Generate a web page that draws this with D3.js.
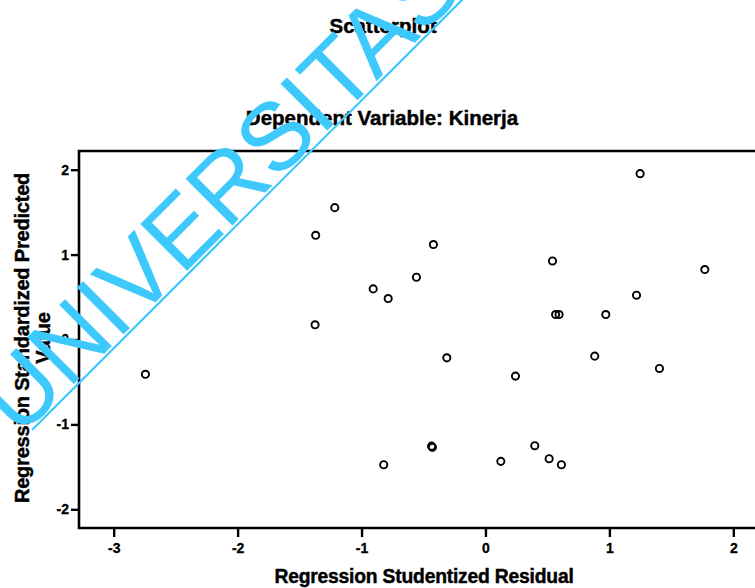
<!DOCTYPE html>
<html>
<head>
<meta charset="utf-8">
<script src="https://cdn.jsdelivr.net/npm/d3@7"></script>
<style>
  html, body { margin: 0; padding: 0; background: #fff; }
  svg { display: block; }
  text { font-family: "Liberation Sans", Arial, sans-serif; }
</style>
</head>
<body>
<svg id="chart" width="755" height="588"></svg>
<script>
// Data (Regression Studentized Residual vs Standardized Predicted Value)
const residuals = [-2.744, -1.216, -1.370, -1.375, -0.906, -0.785, -0.557, -0.420, -0.312, -0.821,
                   -0.435, -0.428, 0.124, 0.242, 0.398, 0.514, 0.613, 0.541, 0.566, 0.594,
                   0.971, 0.882, 1.219, 1.248, 1.404, 1.770];
const predicted = [-0.410, 1.553, 1.227, 0.173, 0.596, 0.482, 0.733, 1.118, -0.216, -1.475,
                   -1.256, -1.270, -1.435, -0.431, -1.251, -1.404, -1.475, 0.925, 0.294, 0.294,
                   0.294, -0.196, 0.522, 1.953, -0.341, 0.824];
const xTicks = [-3, -2, -1, 0, 1, 2];
const yTicks = [-2, -1, 0, 1, 2];
const title = "Scatterplot";
const subtitle = "Dependent Variable: Kinerja";
const xLabel = "Regression Studentized Residual";
const yLabelLines = ["Regression Standardized Predicted", "Value"];
const watermark = "UNIVERSITAS";

const svg = d3.select("#chart");
const W = 755, H = 588;

const x = d3.scaleLinear().domain([-3.28, 2.28]).range([79, 768]);
const y = d3.scaleLinear().domain([-2.22, 2.22]).range([528, 151]);

svg.append("rect").attr("width", W).attr("height", H).attr("fill", "#fff");

// Titles
const boldStroke = 0.45;
svg.append("text").attr("x", 383).attr("y", 33).attr("text-anchor", "middle")
  .attr("font-size", 20.5).attr("font-weight", "bold")
  .attr("stroke", "#000").attr("stroke-width", boldStroke).text(title);
svg.append("text").attr("x", 382).attr("y", 125).attr("text-anchor", "middle")
  .attr("font-size", 20.5).attr("font-weight", "bold")
  .attr("stroke", "#000").attr("stroke-width", boldStroke).text(subtitle);

// Frame (plot area runs past the right edge of the window)
svg.append("path")
  .attr("d", `M${x.range()[1]},${y.range()[1]}H${x.range()[0]}V${y.range()[0]}H${x.range()[1]}`)
  .attr("fill", "none").attr("stroke", "#000").attr("stroke-width", 2.6);

// Axes
const xAxis = svg.append("g").attr("transform", `translate(0,${y.range()[0]})`)
  .call(d3.axisBottom(x).tickValues(xTicks).tickSize(9).tickPadding(6).tickFormat(d3.format("d")));
const yAxis = svg.append("g").attr("transform", `translate(${x.range()[0]},0)`)
  .call(d3.axisLeft(y).tickValues(yTicks).tickSize(8).tickPadding(2).tickFormat(d3.format("d")));
[xAxis, yAxis].forEach(g => {
  g.select(".domain").remove();
  g.selectAll(".tick line").attr("stroke", "#000").attr("stroke-width", 2.4);
  g.selectAll(".tick text").attr("font-family", "'Liberation Sans', Arial, sans-serif")
    .attr("font-size", 14).attr("font-weight", "bold").attr("fill", "#000")
    .attr("stroke", "#000").attr("stroke-width", 0.3)
    .text(d => d < 0 ? "-" + Math.abs(d) : d);
});

// Axis titles
svg.append("text").attr("x", 424).attr("y", 583).attr("text-anchor", "middle")
  .attr("font-size", 19.3).attr("font-weight", "bold").attr("letter-spacing", -0.2)
  .attr("stroke", "#000").attr("stroke-width", boldStroke).text(xLabel);
const yl = svg.append("g").attr("transform", "translate(0,338) rotate(-90)");
yLabelLines.forEach((t, i) => {
  yl.append("text").attr("x", 0).attr("y", 29 + i * 21).attr("text-anchor", "middle")
    .attr("font-size", 20).attr("font-weight", "bold").attr("letter-spacing", -0.2)
    .attr("stroke", "#000").attr("stroke-width", boldStroke).text(t);
});

// Points
svg.append("g").selectAll("circle").data(residuals.map((r, i) => [r, predicted[i]]))
  .join("circle")
  .attr("cx", d => x(d[0])).attr("cy", d => y(d[1])).attr("r", 3.6)
  .attr("fill", "none").attr("stroke", "#000").attr("stroke-width", 1.9);

// Watermark (diagonal text and underline)
const wm = svg.append("g").attr("transform", "translate(32,430) rotate(-45)");
wm.append("line").attr("x1", 0).attr("y1", 0).attr("x2", 700).attr("y2", 0)
  .attr("stroke", "#3ec9fd").attr("stroke-width", 2.2);
wm.append("text").attr("x", -15).attr("y", -3).attr("font-size", 96)
  .attr("fill", "#3ec9fd").text(watermark);
</script>
</body>
</html>
